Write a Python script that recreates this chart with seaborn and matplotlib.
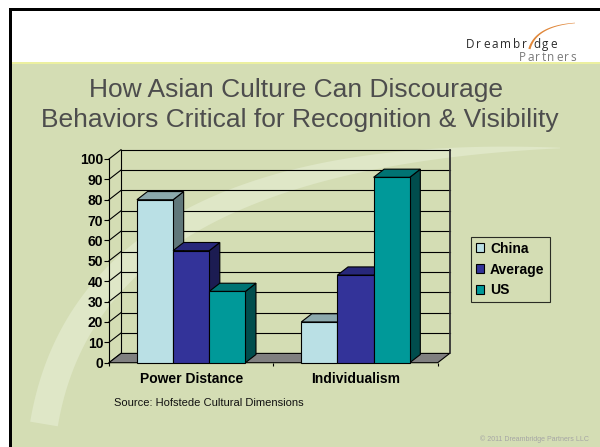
import numpy as np
import pandas as pd
import matplotlib
matplotlib.use("Agg")
import matplotlib.pyplot as plt
from matplotlib.patches import Polygon, Rectangle, Patch
import seaborn as sns

# Hofstede scores by dimension
dimensions = ["Power Distance", "Individualism"]
groups = ["China", "Average", "US"]
china = [80, 20]
average = [55, 43]
us = [35, 91]
y_ticks = list(range(0, 101, 10))

front_colors = {"China": "#BAE0E5", "Average": "#333399", "US": "#009999"}
top_colors = {"China": "#8CA9AD", "Average": "#28287A", "US": "#007373"}
side_colors = {"China": "#60777A", "Average": "#1C1C52", "US": "#004D4D"}

df = pd.DataFrame({
    "dimension": dimensions * len(groups),
    "group": [g for g in groups for _ in dimensions],
    "score": china + average + us,
})

plt.rcParams["font.family"] = ["Liberation Sans", "DejaVu Sans"]

W, H = 600, 447
fig = plt.figure(figsize=(6, 4.47), dpi=100)

# ---- slide background, in pixel coordinates ----
bg = fig.add_axes([0, 0, 1, 1], zorder=0)
bg.set_xlim(0, W)
bg.set_ylim(H, 0)
bg.axis("off")
bg.add_patch(Rectangle((0, 0), W, H, color="white", lw=0))
bg.add_patch(Rectangle((12, 64), W - 12, H - 64, color="#D4DDB4", lw=0))
bg.add_patch(Rectangle((12, 62), W - 12, 2.2, color="#ECF0A0", lw=0))
bg.add_patch(Rectangle((9, 8), W - 9, 3, color="black", lw=0))
bg.add_patch(Rectangle((9, 8), 3, H - 8, color="black", lw=0))


def tapered_band(p0, p1, p2, hw0, hw1, power=3.0, n=200):
    t = np.linspace(0, 1, n)[:, None]
    p0, p1, p2 = map(np.asarray, (p0, p1, p2))
    c = (1 - t) ** 2 * p0 + 2 * t * (1 - t) * p1 + t ** 2 * p2
    d = 2 * (1 - t) * (p1 - p0) + 2 * t * (p2 - p1)
    nrm = np.hstack([-d[:, 1:2], d[:, 0:1]])
    nrm /= np.linalg.norm(nrm, axis=1)[:, None]
    hw = hw1 + (hw0 - hw1) * (1 - t ** power)
    return np.vstack([c + nrm * hw, (c - nrm * hw)[::-1]])


# light decorative swoosh behind the chart
bg.add_patch(Polygon(tapered_band((44, 424), (90, 150), (560, 148), 14, 0.3),
                     closed=True, color="#DFE7C7", lw=0))

# title
title_kw = dict(ha="center", va="baseline", fontsize=19, color="#4D4D4D")
bg.text(296, 96.7, "How Asian Culture Can Discourage", **title_kw)
bg.text(299.5, 126.7, "Behaviors Critical for Recognition & Visibility", **title_kw)

# logo with wide letter spacing
renderer = fig.canvas.get_renderer()


def spaced_text(s, x0, x1, y, **kw):
    objs = [bg.text(0, y, ch, va="baseline", ha="left", **kw) for ch in s]
    widths = [o.get_window_extent(renderer).width for o in objs]
    gap = (x1 - x0 - sum(widths)) / (len(s) - 1)
    x = x0
    for o, w in zip(objs, widths):
        o.set_x(x)
        x += w + gap
    return objs, widths


logo_kw = dict(fontsize=8.5, family=["Open Sans", "DejaVu Sans"])
objs, widths = spaced_text("Dreambridge", 466, 557, 48.3, color="#2A2A2A", **logo_kw)
objs[7].set_visible(False)
xi = objs[7].get_position()[0] + widths[7] / 2
bg.add_patch(Polygon(tapered_band((xi - 0.5, 49), (xi + 6, 26), (575, 23), 1.1, 0.25, power=1.0),
                     closed=True, color="#E0873A", lw=0))
spaced_text("Partners", 518.6, 576, 60.7, color="#7A7A7A", **logo_kw)

bg.text(114, 403, "Source: Hofstede Cultural Dimensions", fontsize=8,
        va="center", ha="left", color="#111111")
bg.text(480, 439, "\u00a9 2011 Dreambridge Partners LLC", fontsize=5,
        va="center", ha="left", color="#A5A5A5")

# ---- 3-D style column chart ----
X0, Y0 = 109, 362.7          # front-left corner of the floor (px)
CAT_PX, VAL_PX = 164.35, 2.037
DX = 12 / CAT_PX             # depth offset in data units
DY = 9.3 / VAL_PX
xlo, xhi = -0.5, 1.5 + DX
ylo, yhi = 0, 100 + DY
ax_right = X0 + (xhi - xlo) * CAT_PX
ax_top = Y0 - yhi * VAL_PX
ax = fig.add_axes([X0 / W, 1 - Y0 / H, (ax_right - X0) / W, (Y0 - ax_top) / H], zorder=1)
ax.patch.set_alpha(0)

sns.barplot(data=df, x="dimension", y="score", hue="group", order=dimensions,
            hue_order=groups, palette=front_colors, width=0.66, gap=0,
            saturation=1, edgecolor="black", linewidth=0.8, errorbar=None,
            legend=False, ax=ax)

ax.set_xlim(xlo, xhi)
ax.set_ylim(ylo, yhi)

line_kw = dict(color="black", lw=0.8, clip_on=False, zorder=1.5)
# floor
ax.add_patch(Polygon([(-0.5, 0), (1.5, 0), (1.5 + DX, DY), (-0.5 + DX, DY)],
                     closed=True, facecolor="#808080", edgecolor="black",
                     lw=0.8, clip_on=False, zorder=1.6))
# walls and gridlines
for v in y_ticks:
    ax.plot([-0.5, -0.5 + DX], [v, v + DY], **line_kw)
    if v > 0:
        ax.plot([-0.5 + DX, 1.5 + DX], [v + DY, v + DY], **line_kw)
ax.plot([-0.5, -0.5], [0, 100], **line_kw)
ax.plot([-0.5 + DX, -0.5 + DX], [DY, 100 + DY], **line_kw)
ax.plot([1.5 + DX, 1.5 + DX], [DY, 100 + DY], color="#333333", lw=1.3,
        clip_on=False, zorder=1.5)

# top and side faces of each column
DEPTH = 0.88
ddx, ddy = DEPTH * DX, DEPTH * DY
bars = []
for g, cont in zip(groups, ax.containers):
    for p in cont:
        bars.append((p.get_x(), g, p))
bars.sort(key=lambda b: b[0])
for rank, (_, g, p) in enumerate(bars):
    x, w, h = p.get_x(), p.get_width(), p.get_height()
    z = 3 + rank * 2
    ax.add_patch(Polygon([(x + w, 0), (x + w + ddx, ddy), (x + w + ddx, h + ddy), (x + w, h)],
                         closed=True, facecolor=side_colors[g], edgecolor="black",
                         lw=0.8, zorder=z, clip_on=False))
    ax.add_patch(Polygon([(x, h), (x + w, h), (x + w + ddx, h + ddy), (x + ddx, h + ddy)],
                         closed=True, facecolor=top_colors[g], edgecolor="black",
                         lw=0.8, zorder=z, clip_on=False))
    p.set_zorder(z + 1)
    p.set_clip_on(False)

for s in ax.spines.values():
    s.set_visible(False)
ax.set_xlabel("")
ax.set_ylabel("")
ax.set_yticks(y_ticks)
ax.set_yticklabels([str(v) for v in y_ticks], fontweight="bold", fontsize=10)
ax.tick_params(axis="y", left=True, direction="out", length=3.6, width=0.8,
               pad=0.5, colors="black")
ax.set_xticks([0, 1])
ax.set_xticklabels(dimensions, fontweight="bold", fontsize=10)
ax.tick_params(axis="x", which="major", bottom=True, length=0, pad=7, colors="black")
ax.set_xticks([-0.5, 0.5, 1.5], minor=True)
ax.tick_params(axis="x", which="minor", bottom=True, direction="out",
               length=2.5, width=0.8, colors="black")

handles = [Patch(facecolor=front_colors[g], edgecolor="black", linewidth=0.8) for g in groups]
leg = fig.legend(handles, groups, loc="upper left",
                 bbox_to_anchor=(470.7 / W, 1 - 236.7 / H), bbox_transform=fig.transFigure,
                 frameon=True, fancybox=False, edgecolor="black", facecolor="none",
                 prop={"weight": "bold", "size": 10}, handlelength=0.6, handleheight=0.6,
                 handletextpad=0.45, labelspacing=0.5, borderpad=0.35, borderaxespad=0)
leg.get_frame().set_linewidth(0.8)
leg.set_zorder(5)

fig.savefig("out.png", dpi=100)
